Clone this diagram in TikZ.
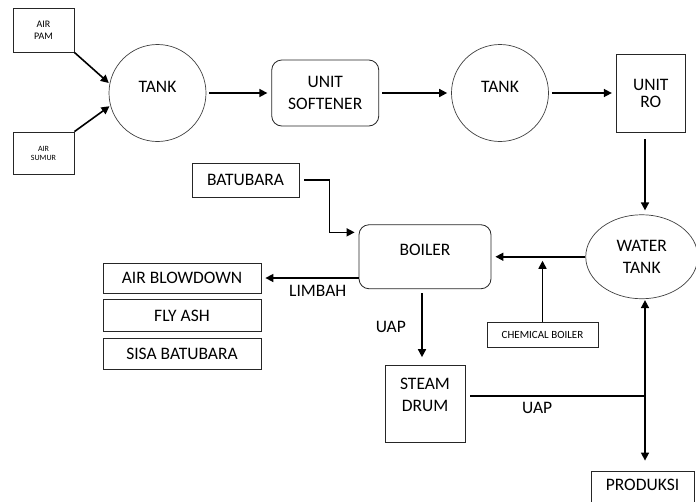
\documentclass[tikz,border=0pt]{standalone}
\usepackage{fontspec}
\setmainfont{Carlito}
\usetikzlibrary{arrows.meta,positioning,shapes.geometric}

\begin{document}
\begin{tikzpicture}[x=1pt,y=-1pt,
  every node/.style={font=\fontsize{17.5}{22}\selectfont,align=center},
  arrow/.style={-{Triangle[length=8pt,width=8pt]},line width=1.6pt,shorten >=4pt},
  box/.style={rectangle,draw=black!85,line width=0.8pt,inner sep=2pt},
  rbox/.style={box,rounded corners=10pt},
  tank/.style={circle,draw=black!75,line width=0.7pt,minimum size=97pt,text depth=12pt},
  small/.style={box,font=\fontsize{10}{12}\selectfont}
]

\useasboundingbox (0,0) rectangle (696,501);

% top row: water treatment
\node[tank] (tankA) at (157.5,93) {TANK};
\node[rbox,minimum width=107pt,minimum height=66pt,right=65pt of tankA] (softener) {UNIT\\SOFTENER};
\node[tank,right=72pt of softener] (tankB) {TANK};
\node[box,minimum width=69pt,minimum height=78pt,right=67pt of tankB] (unitro) {UNIT\\[-5pt]RO};

\node[small,minimum width=61pt,minimum height=44pt] (airpam) at (43.5,30) {AIR\\PAM};
\node[small,font=\fontsize{8}{9}\selectfont,minimum width=61pt,minimum height=42pt] (airsumur) at (43.5,153) {AIR\\SUMUR};

% boiler part
\node[ellipse,draw=black!75,line width=0.7pt,minimum width=112pt,minimum height=84pt,
      below=82pt of unitro,xshift=-9pt] (watertank) {WATER\\TANK};
\node[rbox,minimum width=132pt,minimum height=64pt,text depth=14pt,left=94pt of watertank] (boiler) {BOILER};
\node[box,font=\fontsize{11}{13}\selectfont,minimum width=111pt,minimum height=25pt] (chemical) at (542.5,334.5) {CHEMICAL BOILER};
\node[box,minimum width=107pt,minimum height=34pt] (batubara) at (245.5,180) {BATUBARA};
\node[box,minimum width=80pt,minimum height=77pt,text depth=19pt,below=76pt of boiler] (steamdrum) {STEAM\\DRUM};
\node[box,minimum width=103pt,minimum height=36pt,text depth=8pt] (produksi) at (642.5,489) {PRODUKSI};

% waste
\node[box,minimum width=158pt,minimum height=30pt] (blowdown) at (182,278) {AIR BLOWDOWN};
\node[box,minimum width=158pt,minimum height=32pt,below=6pt of blowdown] (flyash) {FLY ASH};
\node[box,minimum width=158pt,minimum height=31pt,below=6pt of flyash] (sisa) {SISA BATUBARA};

\coordinate (junc) at (645,396);

\draw[arrow,shorten >=1pt] (airpam.south east) -- (tankA.169);
\draw[arrow,shorten >=1pt] (airsumur.north east) -- (tankA.195);
\foreach \a/\b in {tankA/softener,softener/tankB,tankB/unitro} { \draw[arrow,shorten <=3pt] (\a) -- (\b); }
\draw[arrow,shorten <=7pt] (unitro.south -| junc) -- (watertank.north -| junc);
\draw[arrow] (watertank) -- (boiler);
\draw[arrow] (chemical) -- (chemical |- boiler.east);
\draw[arrow,shorten <=5pt] (batubara.east) -| ([xshift=-29pt,yshift=-8pt]boiler.north west) -- ([yshift=-8pt]boiler.north west);
\draw[arrow] (boiler.west |- blowdown) -- node[pos=0.42,below=3pt] {LIMBAH} (blowdown);
\draw[arrow,shorten <=4pt,shorten >=8pt] ([xshift=-3pt]boiler.south) -- node[left=12pt] {UAP} ([xshift=-3pt]boiler.south |- steamdrum.north);
\draw[line width=1.6pt,shorten <=5pt] (steamdrum.east |- junc) -- node[pos=0.4,below=2pt] {UAP} (junc);
\draw[arrow,shorten >=1pt] (junc) -- (junc |- watertank.south);
\draw[arrow,shorten >=10pt] (junc) -- (produksi.north -| junc);

\end{tikzpicture}
\end{document}
